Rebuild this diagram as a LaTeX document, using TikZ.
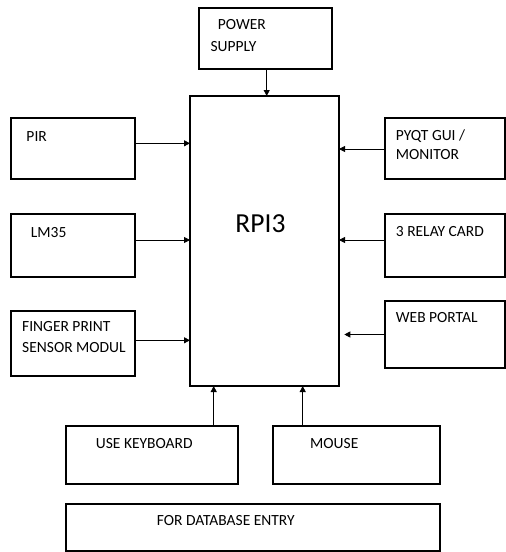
\documentclass[tikz,border=0pt]{standalone}
\usepackage{fontspec}
\setmainfont{Carlito}
\usetikzlibrary{calc,arrows.meta}

\tikzset{
  blk/.style={draw, rectangle, line width=1.4pt, inner sep=0pt, outer sep=0pt},
  txt/.style={anchor=base west, inner sep=0pt, font=\fontsize{15.5}{18}\selectfont},
  feed/.style={line width=0.8pt, -{Triangle[length=6pt,width=6pt]}},
}

\begin{document}
\begin{tikzpicture}[x=1pt,y=-1pt]
    \useasboundingbox (0,0) rectangle (506,552);

    % main board
    \node[blk, line width=1.8pt, minimum width=149, minimum height=290] (rpi) at (264.5,241) {};
    \node[anchor=base, inner sep=0pt, font=\fontsize{27.5}{30}\selectfont] (rpitxt) at (260.5,232.3) {RPI3};

    % top
    \node[blk, minimum width=133, minimum height=61] (pwr) at (265.5,38.5) {};
    \node[txt] (pwrtxta) at (217.7,29.3) {POWER};
    \node[txt] (pwrtxtb) at (210.3,51) {SUPPLY};

    % left column
    \node[blk, minimum width=124, minimum height=61] (pir) at (73,148.5) {};
    \node[txt] (pirtxt) at (26.3,141.7) {PIR};
    \node[blk, minimum width=124, minimum height=63] (lm) at (73,245.5) {};
    \node[txt] (lmtxt) at (30.7,237) {LM35};
    \node[blk, minimum width=124, minimum height=65] (fps) at (73,343.5) {};
    \node[txt] (fpstxta) at (22,331.7) {FINGER PRINT};
    \node[txt] (fpstxtb) at (22,352.3) {SENSOR MODUL};

    % right column
    \node[blk, minimum width=120, minimum height=61] (gui) at (445,148.5) {};
    \node[txt] (guitxta) at (395.7,140.7) {PYQT GUI /};
    \node[txt] (guitxtb) at (395.7,159.3) {MONITOR};
    \node[blk, minimum width=120, minimum height=63] (relay) at (445,245.5) {};
    \node[txt] (relaytxt) at (395.7,236) {3 RELAY CARD};
    \node[blk, minimum width=120, minimum height=67] (web) at (445,334.5) {};
    \node[txt] (webtxt) at (395.7,322) {WEB PORTAL};

    % bottom
    \node[blk, minimum width=172, minimum height=58] (kbd) at (152,455) {};
    \node[txt] (kbdtxt) at (95.7,448.3) {USE KEYBOARD};
    \node[blk, minimum width=167, minimum height=58] (mouse) at (356.5,455) {};
    \node[txt] (mousetxt) at (310,448.3) {MOUSE};
    \node[blk, minimum width=374, minimum height=47] (db) at (253,527.5) {};
    \node[txt] (dbtxt) at (156.7,525) {FOR DATABASE ENTRY};

    % connector ends
    \coordinate (pwrout) at ([xshift=1.2pt]pwr.south);
    \coordinate (pirout) at ([yshift=5.2pt]pir.east);
    \coordinate (lmout) at ([yshift=5.5pt]lm.east);
    \coordinate (fpsout) at ([yshift=3.2pt]fps.east);
    \coordinate (guiout) at ([yshift=-0.5pt]gui.west);
    \coordinate (relayout) at ([yshift=5.5pt]relay.west);
    \coordinate (webout) at (web.west);
    \coordinate (kbdout) at ([xshift=61.7pt]kbd.north);
    \coordinate (mouseout) at ([xshift=-53.8pt]mouse.north);
    \coordinate (webin) at ($(webout -| rpi.east)+(5.3,0)$);

    \draw[feed] (pwrout) -- (pwrout |- rpi.north);
    \draw[feed] (pirout) -- (pirout -| rpi.west);
    \draw[feed] (lmout) -- (lmout -| rpi.west);
    \draw[feed] (fpsout) -- (fpsout -| rpi.west);
    \draw[feed] (guiout) -- (guiout -| rpi.east);
    \draw[feed] (relayout) -- (relayout -| rpi.east);
    \draw[feed] (webout) -- (webin);
    \draw[feed] (kbdout) -- (kbdout |- rpi.south);
    \draw[feed] (mouseout) -- (mouseout |- rpi.south);
\end{tikzpicture}
\end{document}
